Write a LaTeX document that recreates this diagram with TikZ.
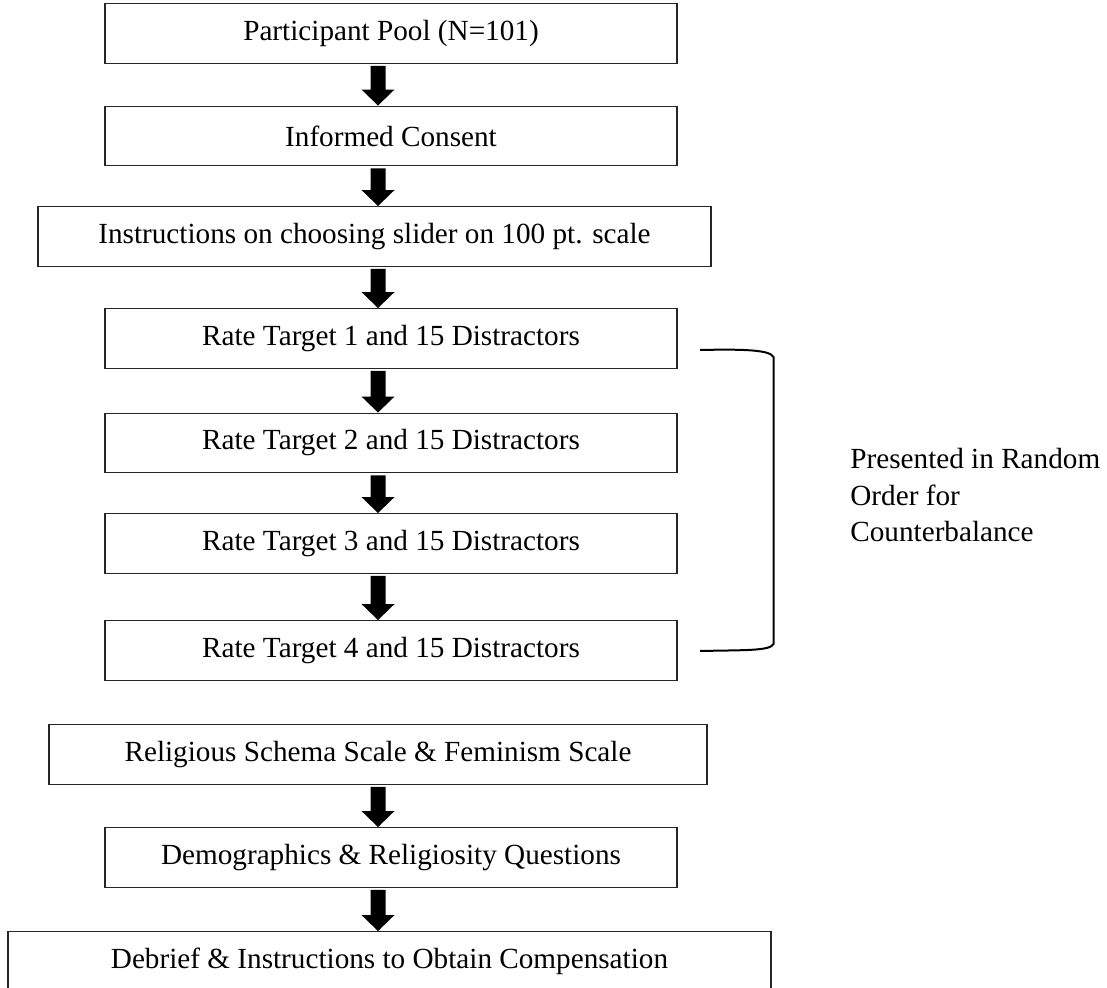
\documentclass[tikz,border=0pt]{standalone}
\usepackage{fontspec}
\setmainfont{Liberation Serif}
\usetikzlibrary{calc}
\newcommand\fatarrow[2]{%
  \fill[black] let \p1=(#1.south), \p2=(#2.north), \p3=(ax) in
  (\x3-3.75pt,\y1-1pt) -- (\x3-3.75pt,\y2+8pt) -- (\x3-8.25pt,\y2+8pt) -- (\x3,\y2)
  -- (\x3+8.25pt,\y2+8pt) -- (\x3+3.75pt,\y2+8pt) -- (\x3+3.75pt,\y1-1pt) -- cycle;}
\tikzset{
  box/.style={draw=black!85, line width=0.7pt, rectangle, minimum height=29.75pt,
    inner sep=0pt, font=\fontsize{14.6}{17.5}\selectfont, text=black},
  note/.style={inner sep=0pt, align=left, font=\fontsize{14.6}{18.25}\selectfont, text=black},
  bracketline/.style={line width=1pt, black}
}
\begin{document}
\begin{tikzpicture}[x=0.5pt, y=-0.5pt]
\useasboundingbox (0,0) rectangle (1107,988);
\coordinate (ax) at (378,0);
\node[box, minimum width=286pt] (n1) at (391,33.5) {Participant Pool (N=101)};
\node[box, minimum width=286pt] (n2) at (391,136) {Informed Consent};
\node[box, minimum width=336.5pt] (n3) at (374.5,236.5) {Instructions on choosing slider on 100 pt. scale};
\node[box, minimum width=286pt] (n4) at (391,338.5) {Rate Target 1 and 15 Distractors};
\node[box, minimum width=286pt] (n5) at (391,443) {Rate Target 2 and 15 Distractors};
\node[box, minimum width=286pt] (n6) at (391,543.5) {Rate Target 3 and 15 Distractors};
\node[box, minimum width=286pt] (n7) at (391,650.5) {Rate Target 4 and 15 Distractors};
\node[box, minimum width=329pt] (n8) at (378,754.5) {Religious Schema Scale \& Feminism Scale};
\node[box, minimum width=286pt] (n9) at (391,857.5) {Demographics \& Religiosity Questions};
\node[box, minimum width=381.5pt] (n10) at (389.5,961.5) {Debrief \& Instructions to Obtain Compensation};
\fatarrow{n1}{n2}
\fatarrow{n2}{n3}
\fatarrow{n3}{n4}
\fatarrow{n4}{n5}
\fatarrow{n5}{n6}
\fatarrow{n6}{n7}
\fatarrow{n8}{n9}
\fatarrow{n9}{n10}
\coordinate (bt) at (700,350);
\coordinate (bb) at (700,651);
\draw[bracketline] (bt) .. controls (745,349) and (770,350) .. (773.5,357)
  -- (773.5,644) .. controls (770,651) and (745,650) .. (bb);
\node[note, anchor=north west] (lab) at (850,448) {Presented in Random\\Order for\\Counterbalance};
\end{tikzpicture}
\end{document}
